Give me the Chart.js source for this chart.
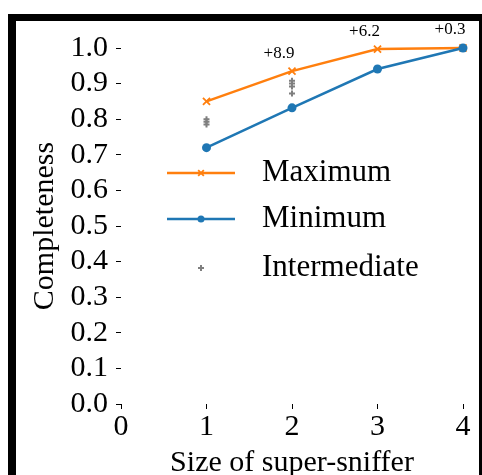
<!DOCTYPE html>
<html>
<head>
<meta charset="utf-8">
<script src="https://cdn.jsdelivr.net/npm/chart.js@4/dist/chart.umd.min.js"></script>
<style>
    html, body { margin: 0; padding: 0; background: #fff; overflow: hidden; }
    #frame {
        position: absolute;
        left: 8px;
        top: 14px;
        width: 463px;
        height: 470px;
        border-left: 8px solid #000;
        border-top: 7px solid #000;
        border-right: 8px solid #000;
        background: #fff;
    }
    #chart { display: block; }
</style>
</head>
<body>
<div id="frame">
    <canvas id="chart" width="463" height="454"></canvas>
</div>
<script>
(function() {
    'use strict';

    // Data
    const sizes = [1, 2, 3, 4];
    const maximum = [0.85, 0.935, 0.997, 1.0];
    const minimum = [0.72, 0.832, 0.941, 1.0];
    const intermediateX = [1, 1, 1, 2, 2, 2, 2];
    const intermediateY = [0.800, 0.793, 0.785, 0.908, 0.900, 0.892, 0.872];
    const gainSizes = [2, 3, 4];
    const gainLabels = ['+8.9', '+6.2', '+0.3'];
    const xTicks = [0, 1, 2, 3, 4];
    const yTicks = [0, 0.1, 0.2, 0.3, 0.4, 0.5, 0.6, 0.7, 0.8, 0.9, 1.0];

    const COLORS = {
        orange: '#ff7f0e',
        blue: '#1f77b4',
        gray: '#7f7f7f',
        text: '#000'
    };
    const FONT = '"Liberation Serif", "DejaVu Serif", serif';

    const toPoints = (xs, ys) => xs.map((x, i) => ({ x: x, y: ys[i] }));

    const series = [
        {
            label: 'Maximum',
            data: toPoints(sizes, maximum),
            borderColor: COLORS.orange,
            backgroundColor: COLORS.orange,
            borderWidth: 2.5,
            pointStyle: 'crossRot',
            pointRadius: 5,
            pointBorderWidth: 1.8,
            showLine: true,
            order: 2
        },
        {
            label: 'Minimum',
            data: toPoints(sizes, minimum),
            borderColor: COLORS.blue,
            backgroundColor: COLORS.blue,
            borderWidth: 2.5,
            pointStyle: 'circle',
            pointRadius: 4.5,
            pointBorderWidth: 0,
            showLine: true,
            order: 1
        },
        {
            label: 'Intermediate',
            data: toPoints(intermediateX, intermediateY),
            borderColor: COLORS.gray,
            backgroundColor: COLORS.gray,
            pointStyle: 'cross',
            pointRadius: 3,
            pointBorderWidth: 2,
            showLine: false,
            order: 3
        }
    ];
    series.forEach(ds => { ds.clip = false; ds.tension = 0; });

    // Gain labels above the maximum curve
    const gainPlugin = {
        id: 'gainLabels',
        afterDatasetsDraw(chart) {
            const ctx = chart.ctx;
            const xs = chart.scales.x;
            const ys = chart.scales.y;
            ctx.save();
            ctx.font = '17px ' + FONT;
            ctx.fillStyle = COLORS.text;
            ctx.textAlign = 'center';
            ctx.textBaseline = 'middle';
            gainSizes.forEach((s, i) => {
                const v = maximum[sizes.indexOf(s)];
                ctx.fillText(gainLabels[i], xs.getPixelForValue(s) - 13, ys.getPixelForValue(v) - 18);
            });
            ctx.restore();
        }
    };

    // Legend drawn inside the axes, no frame
    const legendPlugin = {
        id: 'innerLegend',
        afterDraw(chart) {
            const ctx = chart.ctx;
            const area = chart.chartArea;
            const x0 = area.left + 46;
            const x1 = x0 + 68;
            const rows = [area.top + 125, area.top + 171, area.top + 220];
            ctx.save();
            ctx.font = '31px ' + FONT;
            ctx.textBaseline = 'middle';
            chart.data.datasets.forEach((ds, i) => {
                const y = rows[i];
                const xm = (x0 + x1) / 2;
                if (ds.showLine) {
                    ctx.strokeStyle = ds.borderColor;
                    ctx.lineWidth = ds.borderWidth;
                    ctx.beginPath();
                    ctx.moveTo(x0, y);
                    ctx.lineTo(x1, y);
                    ctx.stroke();
                }
                const r = ds.pointStyle === 'cross' ? ds.pointRadius : ds.pointRadius - 1;
                ctx.fillStyle = ds.backgroundColor;
                ctx.strokeStyle = ds.borderColor;
                ctx.lineWidth = ds.pointBorderWidth || 1;
                ctx.beginPath();
                if (ds.pointStyle === 'circle') {
                    ctx.arc(xm, y, r, 0, Math.PI * 2);
                    ctx.fill();
                } else if (ds.pointStyle === 'crossRot') {
                    const d = r * Math.SQRT1_2;
                    ctx.moveTo(xm - d, y - d); ctx.lineTo(xm + d, y + d);
                    ctx.moveTo(xm - d, y + d); ctx.lineTo(xm + d, y - d);
                    ctx.stroke();
                } else {
                    ctx.moveTo(xm - r, y); ctx.lineTo(xm + r, y);
                    ctx.moveTo(xm, y - r); ctx.lineTo(xm, y + r);
                    ctx.stroke();
                }
                ctx.fillStyle = COLORS.text;
                ctx.fillText(ds.label, x1 + 27, y);
            });
            ctx.restore();
        }
    };

    const tickGrid = {
        display: true,
        drawOnChartArea: false,
        drawTicks: true,
        tickLength: 5,
        tickWidth: 1,
        tickColor: '#000'
    };

    new Chart(document.getElementById('chart'), {
        type: 'scatter',
        data: { datasets: series },
        options: {
            responsive: false,
            animation: false,
            events: [],
            layout: { padding: { left: 0, top: 27, right: 16, bottom: 0 } },
            plugins: {
                legend: { display: false },
                tooltip: { enabled: false }
            },
            scales: {
                x: {
                    type: 'linear',
                    min: 0,
                    max: 4,
                    afterBuildTicks: scale => { scale.ticks = xTicks.map(v => ({ value: v })); },
                    afterFit: scale => { scale.height = 71; },
                    border: { display: false },
                    grid: tickGrid,
                    ticks: {
                        color: COLORS.text,
                        padding: 0,
                        autoSkip: false,
                        maxRotation: 0,
                        font: { family: FONT, size: 30 },
                        callback: v => String(v)
                    },
                    title: {
                        display: true,
                        text: 'Size of super-sniffer',
                        color: COLORS.text,
                        font: { family: FONT, size: 30, lineHeight: 0.8 },
                        padding: { top: 0, bottom: 0 }
                    }
                },
                y: {
                    type: 'linear',
                    min: 0,
                    max: 1,
                    afterBuildTicks: scale => { scale.ticks = yTicks.map(v => ({ value: v })); },
                    afterFit: scale => { scale.width = 105; },
                    border: { display: false },
                    grid: tickGrid,
                    ticks: {
                        color: COLORS.text,
                        padding: 8,
                        autoSkip: false,
                        font: { family: FONT, size: 30 },
                        callback: v => v.toFixed(1)
                    },
                    title: {
                        display: true,
                        text: 'Completeness',
                        color: COLORS.text,
                        font: { family: FONT, size: 30, lineHeight: 1.2 },
                        padding: { top: 11, bottom: 0 }
                    }
                }
            }
        },
        plugins: [gainPlugin, legendPlugin]
    });
})();
</script>
</body>
</html>
